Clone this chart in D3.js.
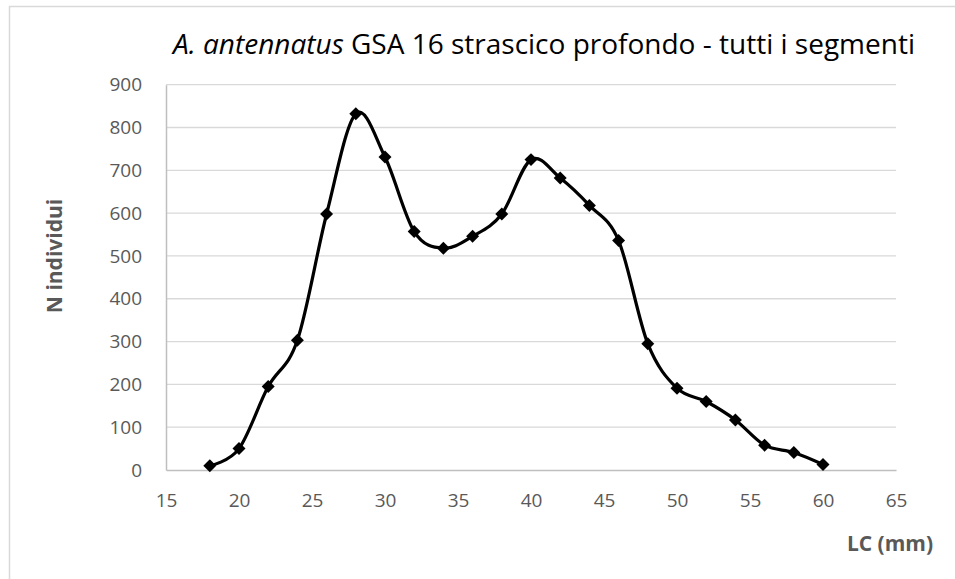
<!DOCTYPE html>
<html lang="it">
<head>
<meta charset="utf-8" />
<title>A. antennatus GSA 16</title>
<script src="https://cdn.jsdelivr.net/npm/d3@7"></script>
<style>
  html, body { margin: 0; padding: 0; background: #fff; }
  svg { display: block; overflow: visible; }
</style>
</head>
<body>
<svg id="chart" width="955" height="579" viewBox="0 0 955 579"></svg>
<script>
// lengths (LC, mm) and counts
const lc = [18, 20, 22, 24, 26, 28, 30, 32, 34, 36, 38, 40, 42, 44, 46, 48, 50, 52, 54, 56, 58, 60];
const nIndividui = [10, 50, 195, 303, 598, 832, 731, 557, 518, 546, 598, 725, 682, 618, 536, 295, 191, 160, 117, 58, 41, 13];
const xTicks = [15, 20, 25, 30, 35, 40, 45, 50, 55, 60, 65];
const yTicks = [0, 100, 200, 300, 400, 500, 600, 700, 800, 900];

const font = "'Open Sans', sans-serif";
const grey = "#595959";

const svg = d3.select("#chart").attr("font-family", font);

const margin = { top: 84.7, right: 59, bottom: 109, left: 166 };
const width = 955;
const height = 579;
const innerWidth = width - margin.left - margin.right;
const innerHeight = height - margin.top - margin.bottom;

// outer chart border: only top and left edges are inside the picture
svg.append("path")
  .attr("d", `M9.5,${height} V6.5 H${width}`)
  .attr("fill", "none")
  .attr("stroke", "#d9d9d9")
  .attr("stroke-width", 1.5);

const g = svg.append("g")
  .attr("transform", `translate(${margin.left}, ${margin.top})`);

const x = d3.scaleLinear().domain([15, 65]).range([0, innerWidth]);
const y = d3.scaleLinear().domain([0, 900]).range([innerHeight, 0]);

// gridlines
g.selectAll(".grid")
  .data(yTicks.filter(d => d > 0))
  .enter()
  .append("line")
  .attr("class", "grid")
  .attr("x1", 0).attr("x2", innerWidth)
  .attr("y1", d => y(d)).attr("y2", d => y(d))
  .attr("stroke", "#d9d9d9")
  .attr("stroke-width", 1.3);

const yAxis = g.append("g")
  .call(d3.axisLeft(y).tickValues(yTicks).tickSize(0).tickPadding(24));

const xAxis = g.append("g")
  .attr("transform", `translate(0, ${innerHeight})`)
  .call(d3.axisBottom(x).tickValues(xTicks).tickSize(0).tickPadding(24));

[xAxis, yAxis].forEach(ax => {
  ax.attr("font-size", 19).attr("font-family", font);
  ax.select(".domain").attr("stroke", "#bfbfbf").attr("stroke-width", 1.5);
  ax.selectAll("text").attr("fill", grey);
});

// smoothed line like the spreadsheet's
const line = d3.line()
  .x((d, i) => x(lc[i]))
  .y(d => y(d))
  .curve(d3.curveCardinal.tension(0));

g.append("path")
  .datum(nIndividui)
  .attr("d", line)
  .attr("fill", "none")
  .attr("stroke", "#000")
  .attr("stroke-width", 3.2);

g.selectAll(".marker")
  .data(nIndividui)
  .enter()
  .append("path")
  .attr("class", "marker")
  .attr("d", d3.symbol(d3.symbolSquare, 84))
  .attr("transform", (d, i) => `translate(${x(lc[i])}, ${y(d)}) rotate(45)`)
  .attr("fill", "#000");

// title
const title = svg.append("text")
  .attr("x", 544)
  .attr("y", 54)
  .attr("text-anchor", "middle")
  .attr("fill", "#000")
  .attr("font-size", 28);
title.append("tspan").attr("font-style", "italic").text("A. antennatus");
title.append("tspan").text(" GSA 16 strascico profondo - tutti i segmenti");

// axis titles
svg.append("text")
  .attr("transform", "translate(62, 256) rotate(-90)")
  .attr("text-anchor", "middle")
  .attr("fill", grey)
  .attr("font-weight", "700")
  .attr("font-size", 21)
  .text("N individui");

svg.append("text")
  .attr("x", 890)
  .attr("y", 551)
  .attr("text-anchor", "middle")
  .attr("fill", grey)
  .attr("font-weight", "700")
  .attr("font-size", 21)
  .text("LC (mm)");
</script>
</body>
</html>
